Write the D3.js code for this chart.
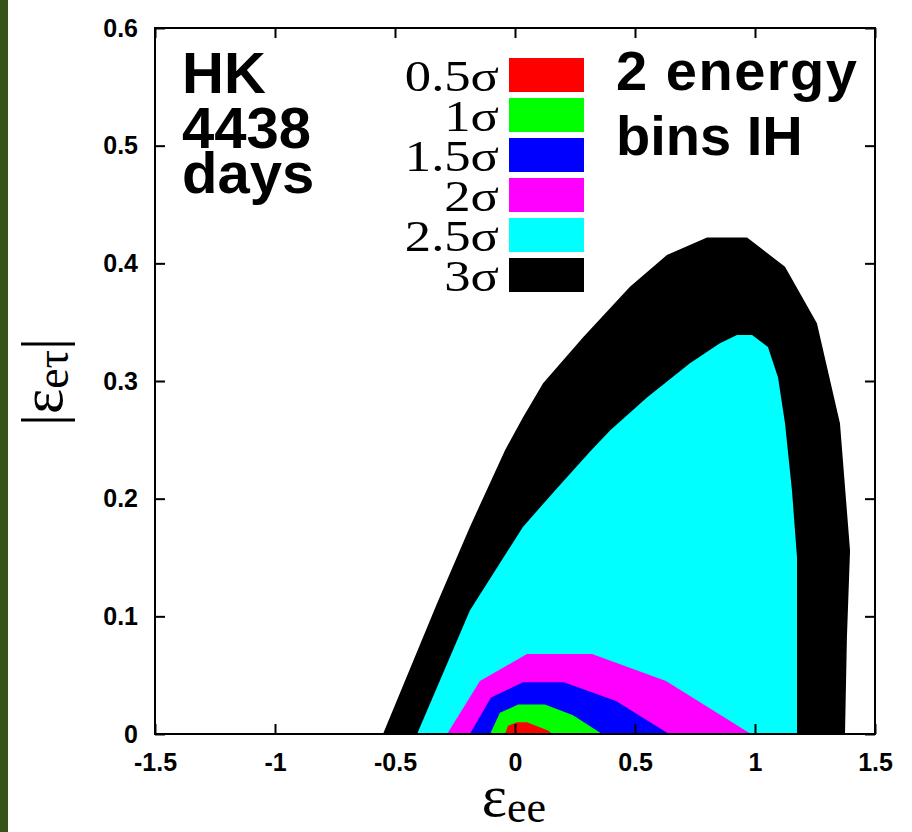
<!DOCTYPE html>
<html>
<head>
<meta charset="utf-8">
<script src="https://cdn.jsdelivr.net/npm/d3@7"></script>
<style>
  html, body { margin: 0; padding: 0; background: #fff; }
  svg { display: block; }
</style>
</head>
<body>
<svg id="chart" width="912" height="832"></svg>
<script>
// ---- data (eps_ee, |eps_etau|) region boundaries ----
const sigmaLabels = ["0.5σ", "1σ", "1.5σ", "2σ", "2.5σ", "3σ"];
const sigmaColors = ["#ff0000", "#00ff00", "#0000ff", "#ff00ff", "#00ffff", "#000000"];

const region3s = [[-0.550,0],[-0.325,0.111],[-0.188,0.176],[-0.042,0.241],[0.033,0.269],[0.117,0.298],
  [0.283,0.337],[0.479,0.380],[0.633,0.407],[0.800,0.422],[0.967,0.422],[1.125,0.397],[1.258,0.349],
  [1.354,0.264],[1.396,0.156],[1.383,0.082],[1.375,0]];
const region25s = [[-0.408,0],[-0.188,0.105],[0.033,0.176],[0.167,0.207],[0.313,0.240],[0.396,0.258],
  [0.550,0.286],[0.729,0.315],[0.854,0.332],[0.925,0.339],[0.988,0.339],[1.054,0.329],[1.096,0.303],
  [1.125,0.264],[1.154,0.207],[1.175,0.150],[1.175,0]];
const region2s = [[-0.283,0],[-0.146,0.045],[0.050,0.068],[0.321,0.068],[0.629,0.045],[0.983,0]];
const region15s = [[-0.188,0],[-0.100,0.031],[0.033,0.044],[0.204,0.044],[0.421,0.028],[0.642,0]];
const region1s = [[-0.104,0],[-0.063,0.018],[0.013,0.025],[0.125,0.025],[0.242,0.016],[0.363,0]];
const region05s = [[-0.042,0],[-0.029,0.007],[0.008,0.010],[0.050,0.010],[0.138,0.003],[0.154,0]];

const xTicks = [-1.5, -1, -0.5, 0, 0.5, 1, 1.5];
const xTickLabels = ["-1.5", "-1", "-0.5", "0", "0.5", "1", "1.5"];
const yTicks = [0, 0.1, 0.2, 0.3, 0.4, 0.5, 0.6];
const yTickLabels = ["0", "0.1", "0.2", "0.3", "0.4", "0.5", "0.6"];

// ---- layout ----
const svg = d3.select("#chart");
const L = 155, R = 875, T = 28, B = 734;
const x = d3.scaleLinear().domain([-1.5, 1.5]).range([L, R]);
const y = d3.scaleLinear().domain([0, 0.6]).range([B, T]);

// left green strip
svg.append("rect").attr("x", 0).attr("y", 0).attr("width", 8).attr("height", 832).attr("fill", "#385318");

svg.append("defs").append("clipPath").attr("id", "clip")
  .append("rect").attr("x", L).attr("y", T).attr("width", R - L).attr("height", B - T);

const regions = [region3s, region25s, region2s, region15s, region1s, region05s];
const regionColors = [sigmaColors[5], sigmaColors[4], sigmaColors[3], sigmaColors[2], sigmaColors[1], sigmaColors[0]];
const line = d3.line().x(d => x(d[0])).y(d => y(d[1]));
const g = svg.append("g").attr("clip-path", "url(#clip)");
regions.forEach((r, i) => {
  g.append("path").attr("d", line(r) + "Z").attr("fill", regionColors[i]).attr("stroke", "none");
});

// axes: inward ticks on all sides
const tickLen = 10;
const axB = svg.append("g").attr("transform", `translate(0,${B})`)
  .call(d3.axisBottom(x).tickValues(xTicks).tickSizeInner(-tickLen).tickSizeOuter(0).tickPadding(19)
    .tickFormat((d, i) => xTickLabels[i]));
const axT = svg.append("g").attr("transform", `translate(0,${T})`)
  .call(d3.axisTop(x).tickValues(xTicks).tickSizeInner(-tickLen).tickSizeOuter(0).tickFormat(""));
const axL = svg.append("g").attr("transform", `translate(${L},0)`)
  .call(d3.axisLeft(y).tickValues(yTicks).tickSizeInner(-tickLen).tickSizeOuter(0).tickPadding(17)
    .tickFormat((d, i) => yTickLabels[i]));
const axR = svg.append("g").attr("transform", `translate(${R},0)`)
  .call(d3.axisRight(y).tickValues(yTicks).tickSizeInner(-tickLen).tickSizeOuter(0).tickFormat(""));
[axB, axT, axL, axR].forEach(a => {
  a.select(".domain").remove();
  a.selectAll(".tick line").attr("stroke", "#000").attr("stroke-width", 2);
  a.selectAll("text").attr("font-family", "'Liberation Sans', Arial, sans-serif")
    .attr("font-weight", "bold").attr("font-size", 25).attr("fill", "#000");
});
svg.append("rect").attr("x", L).attr("y", T).attr("width", R - L).attr("height", B - T)
  .attr("fill", "none").attr("stroke", "#000").attr("stroke-width", 2);

// annotations
const sans = "'Liberation Sans', Arial, sans-serif";
const serif = "'Liberation Serif', 'Times New Roman', serif";
[["HK", 93], ["4438", 148], ["days", 193]].forEach(([t, yy]) => {
  svg.append("text").attr("x", 182).attr("y", yy).text(t)
    .attr("font-family", sans).attr("font-weight", "bold").attr("font-size", 58);
});
svg.append("text").attr("x", 616).attr("y", 90).text("2 energy")
  .attr("textLength", 241).attr("lengthAdjust", "spacing")
  .attr("font-family", sans).attr("font-weight", "bold").attr("font-size", 56);
svg.append("text").attr("x", 616).attr("y", 155).text("bins IH")
  .attr("font-family", sans).attr("font-weight", "bold").attr("font-size", 56);

// legend
sigmaLabels.forEach((lab, i) => {
  const top = 58 + i * 40;
  svg.append("rect").attr("x", 509).attr("y", top).attr("width", 75).attr("height", 34)
    .attr("fill", sigmaColors[i]);
  svg.append("text").attr("transform", `translate(499,${top + 33}) scale(1.17,1)`)
    .attr("text-anchor", "end").text(lab)
    .attr("font-family", serif).attr("font-size", 45);
});

// axis titles
const xt = svg.append("text").attr("x", 514).attr("y", 816).attr("text-anchor", "middle")
  .attr("font-family", serif).attr("font-size", 60);
xt.append("tspan").text("ε");
xt.append("tspan").attr("dy", 6).attr("font-size", 44).text("ee");

const yt = svg.append("text").attr("transform", "translate(62,382) rotate(-90)").attr("text-anchor", "middle")
  .attr("font-family", serif).attr("font-size", 60);
yt.append("tspan").text("|ε");
yt.append("tspan").attr("dy", 6).attr("font-size", 46).text("eτ");
yt.append("tspan").attr("dy", -6).text("|");
</script>
</body>
</html>
